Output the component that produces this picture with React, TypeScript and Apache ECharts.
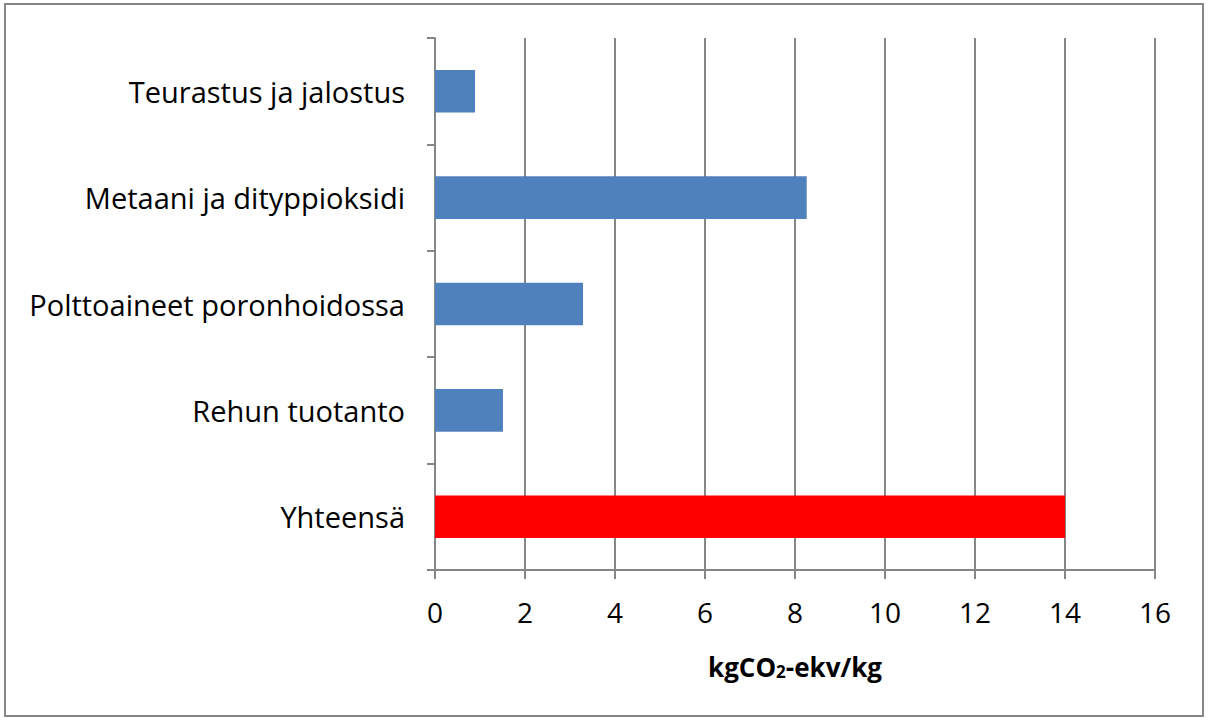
import React, { useEffect, useRef } from "react";
import * as echarts from "echarts";

const categories = [
  "Yhteensä",
  "Rehun tuotanto",
  "Polttoaineet poronhoidossa",
  "Metaani ja dityppioksidi",
  "Teurastus ja jalostus",
];
const values = [14.0, 1.51, 3.29, 8.26, 0.89];
const barColors = ["#FF0000", "#4F81BD", "#4F81BD", "#4F81BD", "#4F81BD"];
const xTicks = [0, 2, 4, 6, 8, 10, 12, 14, 16];

const FONT = "'Open Sans', Lato, sans-serif";

export default function App() {
  const ref = useRef<HTMLDivElement>(null);
  useEffect(() => {
    document.body.style.margin = "0";
    const chart = echarts.init(ref.current!, null, { renderer: "svg" });
    chart.setOption({
      animation: false,
      backgroundColor: "#fff",
      graphic: [
        {
          type: "rect",
          shape: { x: 5, y: 4, width: 1198, height: 712 },
          style: { fill: "none", stroke: "#868686", lineWidth: 2 },
          silent: true,
        },
      ],
      grid: { left: 435, right: 54, top: 38, bottom: 152 },
      xAxis: {
        type: "value",
        min: xTicks[0],
        max: xTicks[xTicks.length - 1],
        interval: 2,
        name: "{a|kgCO}{b|2}{a|-ekv/kg}",
        nameLocation: "middle",
        nameGap: 78,
        nameTextStyle: {
          rich: {
            a: { fontFamily: FONT, fontSize: 26, fontWeight: "bold", color: "#000", verticalAlign: "bottom", lineHeight: 32 },
            b: { fontFamily: FONT, fontSize: 17, fontWeight: "bold", color: "#000", verticalAlign: "bottom", lineHeight: 24 },
          },
        },
        axisLine: { show: true, lineStyle: { color: "#868686", width: 2 } },
        axisTick: { show: true, length: 9, lineStyle: { color: "#868686", width: 2 } },
        axisLabel: { fontFamily: FONT, fontSize: 28, color: "#000", margin: 28 },
        splitLine: { show: true, lineStyle: { color: "#868686", width: 2 } },
      },
      yAxis: {
        type: "category",
        data: categories,
        axisLine: { show: true, lineStyle: { color: "#868686", width: 2 } },
        axisTick: { show: true, length: 8, lineStyle: { color: "#868686", width: 2 } },
        axisLabel: { fontFamily: FONT, fontSize: 29, color: "#000", margin: 30 },
      },
      series: [
        {
          type: "bar",
          data: values.map((v, i) => ({ value: v, itemStyle: { color: barColors[i] } })),
          barWidth: "40%",
        },
      ],
    });
    return () => chart.dispose();
  }, []);
  return <div ref={ref} style={{ width: 1209, height: 722 }} />;
}
